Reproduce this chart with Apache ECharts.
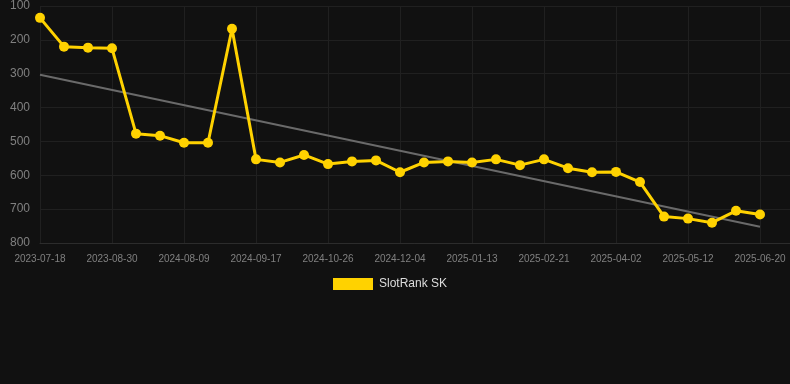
<!DOCTYPE html>
<html>
<head>
<meta charset="utf-8">
<script src="https://cdn.jsdelivr.net/npm/echarts@6/dist/echarts.min.js"></script>
<style>
html,body{margin:0;padding:0;background:#111111;}
#c{width:790px;height:384px;}
</style>
</head>
<body>
<div id="c"></div>
<script>
var dates = [
  '2023-07-18','2023-08-01','2023-08-15','2023-08-30','2024-07-14','2024-07-27','2024-08-09',
  '2024-08-22','2024-09-04','2024-09-17','2024-09-30','2024-10-13','2024-10-26','2024-11-08',
  '2024-11-21','2024-12-04','2024-12-17','2024-12-30','2025-01-13','2025-01-26','2025-02-08',
  '2025-02-21','2025-03-06','2025-03-19','2025-04-02','2025-04-15','2025-04-28','2025-05-12',
  '2025-05-25','2025-06-07','2025-06-20'
];
var ranks = [
  135, 220, 223, 225, 477, 483, 504, 504, 167, 553,
  562, 540, 567, 559, 556, 591, 562, 559, 562, 553,
  570, 553, 579, 591, 590, 620, 722, 728, 740, 705, 716
];
var trendStart = 303;
var trendEnd = 752;
var yTicks = [100, 200, 300, 400, 500, 600, 700, 800];

var seriesData = ranks.map(function (v, i) { return [i, v]; });
var trendData = [[0, trendStart], [dates.length - 1, trendEnd]];

var chart = echarts.init(document.getElementById('c'));
chart.setOption({
  backgroundColor: '#111111',
  animation: false,
  grid: { left: 40, right: 0, top: 6, bottom: 141 },
  legend: {
    data: ['SlotRank SK'],
    top: 273,
    left: 328,
    itemWidth: 40,
    itemHeight: 12,
    itemGap: 10,
    icon: 'rect',
    textStyle: { color: '#dddddd', fontSize: 12, padding: [0, 0, 0, 1], fontFamily: 'Arial, Liberation Sans, sans-serif' }
  },
  xAxis: {
    type: 'value',
    min: 0,
    max: 31.25,
    interval: 3,
    axisLine: { show: true, lineStyle: { color: '#2c2c2c' } },
    axisTick: { show: false },
    splitLine: { show: true, lineStyle: { color: '#202020' } },
    axisLabel: {
      color: '#808080',
      fontSize: 10,
      margin: 11,
      showMaxLabel: false,
      fontFamily: 'Arial, Liberation Sans, sans-serif',
      formatter: function (v) {
        return (Number.isInteger(v) && dates[v]) ? dates[v] : '';
      }
    }
  },
  yAxis: {
    type: 'value',
    inverse: true,
    min: yTicks[0],
    max: yTicks[yTicks.length - 1],
    interval: 100,
    axisLine: { show: false },
    axisTick: { show: false },
    splitLine: { show: true, lineStyle: { color: '#202020' } },
    axisLabel: {
      color: '#808080',
      fontSize: 12,
      margin: 10,
      fontFamily: 'Arial, Liberation Sans, sans-serif'
    }
  },
  series: [
    {
      name: 'trend',
      type: 'line',
      data: trendData,
      symbol: 'none',
      lineStyle: { color: '#6a6a6a', width: 2 },
      silent: true,
      z: 1
    },
    {
      name: 'SlotRank SK',
      type: 'line',
      data: seriesData,
      symbol: 'circle',
      symbolSize: 10,
      itemStyle: { color: '#ffd200' },
      lineStyle: { color: '#ffd200', width: 3 },
      z: 2
    }
  ]
});
</script>
</body>
</html>
